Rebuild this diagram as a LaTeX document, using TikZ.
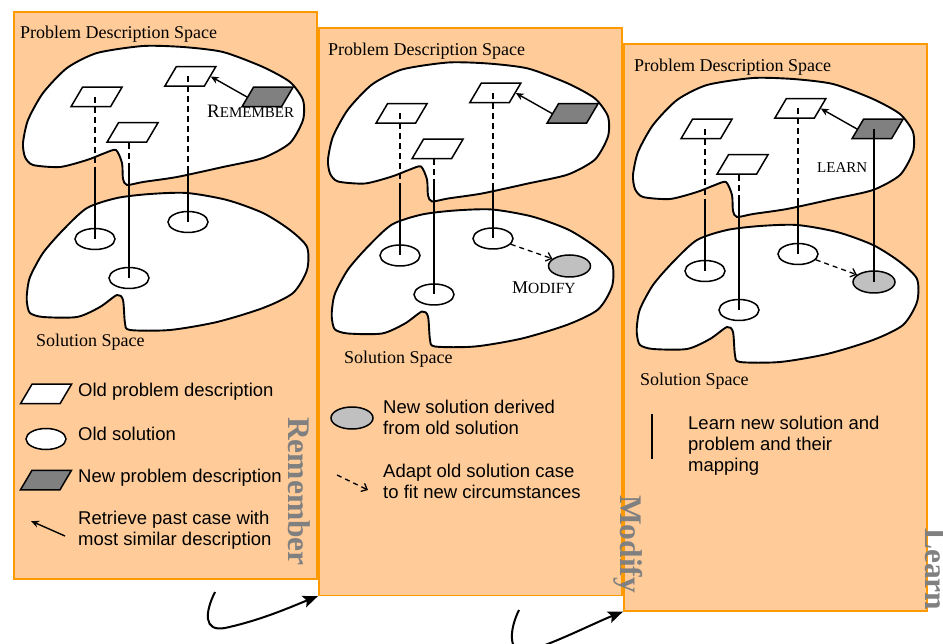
\documentclass[tikz,border=0pt]{standalone}
\usepackage{fontspec}
\setmainfont{Liberation Serif}
\newfontfamily\legendfont{Liberation Sans}
\usetikzlibrary{shapes.geometric, arrows.meta}

\definecolor{panelfill}{RGB}{255,204,153}
\definecolor{panelline}{RGB}{255,153,0}
\definecolor{newprobfill}{RGB}{128,128,128}
\definecolor{newsolfill}{RGB}{192,192,192}
\definecolor{steplabel}{RGB}{128,128,128}

\tikzset{
  panel/.style={draw=panelline, fill=panelfill, line width=1.6pt,
    minimum width=303pt, minimum height=567pt, anchor=north west, inner sep=0pt},
  blob/.style={draw=black, fill=white, line width=1.9pt, line join=round},
  para/.style={draw=black, line width=1.5pt, xslant=0.59,
    minimum width=39.5pt, minimum height=19.5pt, inner sep=0pt},
  oldprob/.style={para, fill=white},
  newprob/.style={para, fill=newprobfill},
  sol/.style={ellipse, draw=black, line width=1.5pt,
    minimum width=40pt, minimum height=21pt, inner sep=0pt},
  oldsol/.style={sol, fill=white},
  newsol/.style={sol, fill=newsolfill, minimum width=42pt, minimum height=22pt},
  maplink/.style={line width=1.5pt},
  hidden link/.style={maplink, dash pattern=on 6pt off 4pt},
  retrieve/.style={line width=1.4pt, -{Stealth[length=8pt,width=7pt]}},
  adapt/.style={line width=1.3pt, dash pattern=on 5pt off 4pt,
    -{Straight Barb[length=5pt,width=9pt]}},
  flow/.style={line width=2pt, -{Stealth[length=15pt,width=12pt,inset=3pt]}},
  spacetext/.style={anchor=base west, inner sep=0pt, font=\fontsize{18}{21}\selectfont},
  legendline/.style={anchor=base west, inner sep=0pt, font=\legendfont\fontsize{18.5}{21}\selectfont},
  legendtext/.style={anchor=north west, inner sep=0pt, align=left,
    font=\legendfont\fontsize{18.5}{21}\selectfont},
  steptext/.style={rotate=-90, anchor=base west, inner sep=0pt, text=steplabel,
    font=\bfseries\fontsize{31.5}{32}\selectfont},
}

% The two spaces with their stored cases, in the first panel's coordinates
\newcommand\casespace{%
  \draw[blob] plot[smooth cycle, tension=0.42] coordinates {
    (116,150) (105,153) (87,160) (60,167) (33,165) (25,157) (23,143) (28,120)
    (43,93) (67,68) (97,53) (143,46) (183,47) (223,52) (263,67) (290,82)
    (303,100) (303,120) (290,143) (263,158) (223,167) (177,177) (143,182)
    (127,185) (123,179) (122,163)};
  \draw[blob] plot[smooth cycle, tension=0.45] coordinates {
    (87,208) (117,198) (150,194) (187,193) (227,200) (263,213) (290,230)
    (307,247) (307,270) (293,293) (263,308) (217,322) (170,330) (130,330)
    (125,323) (123,300) (117,295) (100,307) (77,317) (43,317) (30,313)
    (27,303) (27,293) (30,277) (43,253) (63,230)};
  \node[oldprob] (pa) at (96.5,97) {};
  \node[oldprob] (pb) at (190.25,76.5) {};
  \node[oldprob] (pc) at (132.5,132.5) {};
  \node[newprob] (pn) at (267.5,97) {};
  \node[oldsol] (ea) at (95,239) {};
  \node[oldsol] (eb) at (129,278) {};
  \node[oldsol] (ec) at (188,222) {};
  \coordinate (cut) at (0,168);
  \draw[hidden link] (ea.center |- pa.center) -- (ea.center |- cut);
  \draw[maplink] (ea.center |- cut) -- (ea.center);
  \draw[hidden link] (eb.center |- pc.south) -- (eb.center |- cut);
  \draw[maplink] (eb.center |- cut) -- (eb.center);
  \draw[hidden link] (ec.center |- pb.center) -- (ec.center |- cut);
  \draw[maplink] (ec.center |- cut) -- (ec.center);
  \draw[retrieve] (pn.west) -- (pb.east);
}

\begin{document}
\begin{tikzpicture}[x=1pt, y=-1pt]
\path[use as bounding box, fill=white] (0,0) rectangle (943,644);

% ---------- Remember ----------
\node[panel] (p1) at (13,11) {};
\begin{scope}[name prefix=r-]
  \casespace
\end{scope}
\node[spacetext] (pds1) at (20,39) {Problem Description Space};
\node[spacetext] (ss1) at (36,347) {Solution Space};
\node[spacetext] (remembertag) at (207,118)
  {\fontsize{19}{21}\selectfont R\fontsize{15}{17}\selectfont EMEMBER};

\node[oldprob] (k1) at (46,394) {};
\node[legendline] (k1t) at (78,397) {Old problem description};
\node[oldsol] (k2) at (46,439) {};
\node[legendline] (k2t) at (78,440) {Old solution};
\node[newprob] (k3) at (46,480) {};
\node[legendline] (k3t) at (78,482) {New problem description};
\coordinate (k4a) at (65,536);
\coordinate (k4b) at (31,521);
\draw[retrieve] (k4a) -- (k4b);
\node[legendtext] (k4t) at (78,510.75) {Retrieve past case with\\most similar description};
\node[steptext] (remembertitle) at (288,417) {Remember};

% ---------- Modify ----------
\node[panel] (p2) at (318,27.5) {};
\begin{scope}[shift={(305,16.5)}, name prefix=m-]
  \casespace
  \node[newsol] (gs) at (264.5,249.5) {};
  \draw[adapt] (ec.-18) -- (gs.157);
\end{scope}
\node[spacetext] (pds2) at (328,56) {Problem Description Space};
\node[spacetext] (ss2) at (344,364) {Solution Space};
\node[spacetext] (modifytag) at (512,294)
  {\fontsize{18}{20}\selectfont M\fontsize{15.5}{17}\selectfont ODIFY};

\node[newsol] (k5) at (352,418) {};
\node[legendtext] (k5t) at (383,399.75) {New solution derived\\from old solution};
\coordinate (k6a) at (337,475);
\coordinate (k6b) at (368,490);
\draw[adapt] (k6a) -- (k6b);
\node[legendtext] (k6t) at (383,463.75) {Adapt old solution case\\to fit new circumstances};

% ---------- Learn ----------
\node[panel] (p3) at (623,43) {};
\begin{scope}[shift={(610,32)}, name prefix=l-]
  \casespace
  \node[newsol] (gs) at (264,250) {};
  \draw[adapt] (ec.-18) -- (gs.157);
  \draw[maplink] (gs.center |- pn.center) -- (gs.center);
\end{scope}
\node[spacetext] (pds3) at (634,72) {Problem Description Space};
\node[spacetext] (ss3) at (640,385) {Solution Space};
\node[spacetext] (learntag) at (817,173) {\fontsize{15}{17}\selectfont LEARN};

\coordinate (k7a) at (652,414);
\coordinate (k7b) at (652,459);
\draw[maplink] (k7a) -- (k7b);
\node[legendtext] (k7t) at (688,415.75) {Learn new solution and\\problem and their\\mapping};

\node[steptext] (modifytitle) at (620,495) {Modify};
\node[steptext] (learntitle) at (925,528) {Learn};

% ---------- flow between the steps ----------
\coordinate (f1) at (215,592);
\draw[flow] (f1) .. controls (205,612) and (203,632) .. (225,628)
  .. controls (262,620) and (293,606) .. (p2.south west);
\coordinate (f2) at (519,610);
\draw[flow] (f2) .. controls (510,628) and (508,650) .. (522,652)
  .. controls (545,648) and (592,624) .. (p3.south west);
\end{tikzpicture}
\end{document}
